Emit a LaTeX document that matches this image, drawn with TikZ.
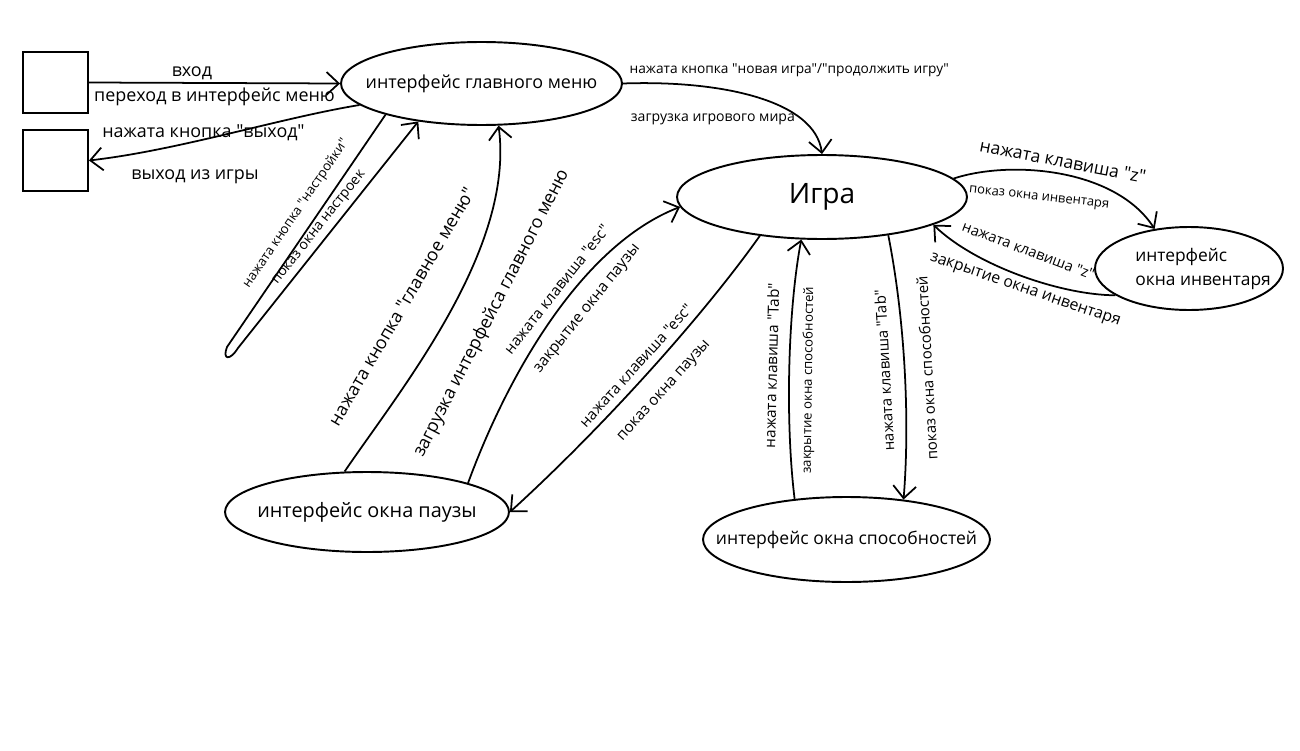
\documentclass[tikz,border=0pt]{standalone}
\usepackage{fontspec}
\setmainfont{Open Sans}[Ligatures=TeXOff]
\usetikzlibrary{shapes.geometric,arrows.meta}

\newcommand{\fsz}[1]{\fontsize{#1}{#1}\selectfont}
\newcommand{\ctext}[1]{\makebox[0pt]{#1}}

\begin{document}
\begin{tikzpicture}[x=0.02cm, y=-0.02cm, line width=1pt, >={Straight Barb[length=7pt,width=13pt]}, font=\fsz{10.2}]

    \tikzstyle{state} = [ellipse, draw, inner sep=0pt, line width=1.1pt]
    \tikzstyle{box} = [rectangle, draw, minimum width=1.3cm, minimum height=1.22cm, line width=1.1pt]

    \useasboundingbox (0,0) rectangle (1300,750);

    \node [box] (box1) at (55.5,82.5) {};
    \node [box] (box2) at (55.5,160.5) {};
    \node [state, minimum width=5.62cm, minimum height=1.66cm] (menu) at (481.5,83.5) {\ctext{интерфейс главного меню}};
    \node [state, minimum width=5.8cm, minimum height=1.68cm, font=\fsz{16}] (game) at (822,197) {\ctext{Игра}};
    \node [state, minimum width=3.76cm, minimum height=1.66cm, font=\fontsize{9.9}{14.2}\selectfont] (inv) at (1189,268.5) {\ctext{\hspace{16pt}\begin{tabular}{@{}l@{}}интерфейс\\окна инвентаря\end{tabular}}};
    \node [state, minimum width=5.68cm, minimum height=1.6cm, font=\fsz{11.3}] (pause) at (367,512) {\ctext{интерфейс окна паузы}};
    \node [state, minimum width=5.74cm, minimum height=1.7cm, font=\fsz{10}] (skills) at (846.5,539.5) {\ctext{интерфейс окна способностей}};

    % вход и выход
    \draw [->] (box1.east) -- node [above=-2pt, pos=.41] {вход} node [below=-1pt] {переход в интерфейс меню} (menu.west);
    \draw [->] (menu.190) .. controls (280,118) and (180,150) .. node [pos=.59, yshift=4pt] {нажата кнопка "выход"} node [pos=.62, below=12pt] {выход из игры} (box2.east);

    % настройки
    \draw [->] (menu.198) -- node [sloped, pos=.47, above=2.8pt, font=\fsz{7.5}] {нажата кнопка "настройки"} (227,347) .. controls (222,360) and (230,361) .. (238,348) -- node [sloped, pos=.5, above=2.5pt, inner sep=0pt, font=\fsz{8}] {показ окна настроек} (menu.211);

    % меню -> игра
    \draw [->] (menu.east) .. controls (720,80) and (815,100) .. node [at start, anchor=south west, font=\fsz{7.8}] {нажата кнопка "новая игра"/"продолжить игру"} node [pos=.75, anchor=east, font=\fsz{8}] {загрузка игрового мира} (game.north);

    % пауза
    \draw [->] (pause.119) .. controls (400,390) and (515,250) .. node [sloped, pos=.46, above=18pt] {нажата кнопка "главное меню"} node [sloped, pos=.55, below=12.4pt] {загрузка интерфейса главного меню} (menu.292);
    \draw [->] (pause.16) .. controls (508,374) and (582,245) .. node [sloped, pos=.57, above=1pt, font=\fsz{8.6}] {нажата клавиша "esc"} node [sloped, pos=.58, below=6pt, font=\fsz{8.8}] {закрытие окна паузы} (game.184);
    \draw [->] (game.212) .. controls (700,320) and (600,430) .. node [sloped, above=1pt, font=\fsz{8.6}] {нажата клавиша "esc"} node [sloped, below=7pt, font=\fsz{8.7}] {показ окна паузы} (pause.east);

    % инвентарь
    \draw [->] (game.8) .. controls (1010,160) and (1115,168) .. node [sloped, pos=.5, above=0pt, font=\fsz{10}] {нажата клавиша "z"} node [sloped, pos=.42, below=8.8pt, font=\fsz{7.4}] {показ окна инвентаря} (inv.131);
    \draw [->] (inv.200) .. controls (1060,295) and (975,265) .. node [sloped, above=8pt, font=\fsz{8.3}] {нажата клавиша "z"} node [sloped, pos=.45, below=0pt, font=\fsz{9}] {закрытие окна инвентаря} (game.346);

    % способности
    \draw [->] (skills.142) .. controls (785,420) and (788,310) .. node [sloped, above=3pt, font=\fsz{8.7}] {нажата клавиша "Tab"} node [sloped, pos=.45, below=3.5pt, font=\fsz{7.5}] {закрытие окна способностей} (game.244);
    \draw [<-] (skills.35) .. controls (910,420) and (905,320) .. node [sloped, allow upside down, above=4.5pt, font=\fsz{8.5}] {нажата клавиша "Tab"} node [sloped, allow upside down, below=5.5pt, font=\fsz{8.5}] {показ окна способностей} (game.330);

\end{tikzpicture}
\end{document}
